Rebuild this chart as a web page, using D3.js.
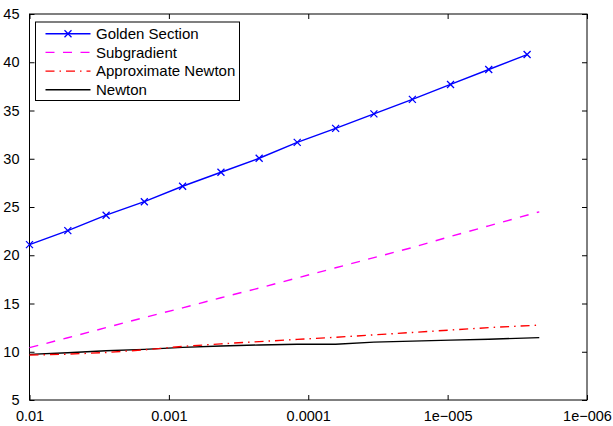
<!DOCTYPE html>
<html>
<head>
<meta charset="utf-8">
<script src="https://cdn.jsdelivr.net/npm/d3@7"></script>
<style>
  body { margin: 0; background: #fff; }
  svg text { font-family: "Liberation Sans", Arial, sans-serif; fill: #000; }
</style>
</head>
<body>
<svg id="chart" width="613" height="426"></svg>
<script>
// tolerance values (x) and iteration counts (y)
const tolGolden = [1e-2, 5.31e-3, 2.82e-3, 1.5e-3, 7.97e-4, 4.23e-4, 2.25e-4, 1.2e-4, 6.36e-5, 3.38e-5, 1.79e-5, 9.53e-6, 5.07e-6, 2.69e-6];
const tolOther = [1e-2, 5.31e-3, 2.82e-3, 1.5e-3, 7.97e-4, 4.23e-4, 2.25e-4, 1.2e-4, 6.36e-5, 3.38e-5, 1.79e-5, 9.53e-6, 5.07e-6, 2.2e-6];

const golden = [21.1, 22.55, 24.15, 25.55, 27.15, 28.6, 30.05, 31.7, 33.15, 34.65, 36.15, 37.7, 39.25, 40.8];
const subgradient = [10.42, 11.45, 12.5, 13.55, 14.55, 15.6, 16.6, 17.65, 18.7, 19.75, 20.8, 21.95, 23.05, 24.5];
const approxNewton = [9.66, 9.75, 9.92, 10.2, 10.55, 10.82, 11.05, 11.28, 11.5, 11.75, 12.0, 12.25, 12.5, 12.76];
const newton = [9.73, 9.9, 10.1, 10.25, 10.45, 10.6, 10.7, 10.77, 10.78, 11.0, 11.1, 11.2, 11.3, 11.46];

const xTicks = [1e-2, 1e-3, 1e-4, 1e-5, 1e-6];
const xTickLabels = ['0.01', '0.001', '0.0001', '1e\u2212005', '1e\u2212006'];
const yTicks = [5, 10, 15, 20, 25, 30, 35, 40, 45];

const seriesNames = ['Golden Section', 'Subgradient', 'Approximate Newton', 'Newton'];

const margin = { top: 14, right: 26, bottom: 26, left: 29.5 };
const width = 613 - margin.left - margin.right;
const height = 426 - margin.top - margin.bottom;

const svg = d3.select('#chart');
const g = svg.append('g')
  .attr('transform', `translate(${margin.left},${margin.top})`);

const x = d3.scaleLog().domain([1e-2, 1e-6]).range([0, width]);
const y = d3.scaleLinear().domain([5, 45]).range([height, 0]);

const series = [
  { name: seriesNames[0], tol: tolGolden, vals: golden, color: '#0000ff', dash: null, marker: true },
  { name: seriesNames[1], tol: tolOther, vals: subgradient, color: '#ff00ff', dash: '9,8.5', marker: false },
  { name: seriesNames[2], tol: tolOther, vals: approxNewton, color: '#ff0000', dash: '9,5,1.5,5', marker: false },
  { name: seriesNames[3], tol: tolOther, vals: newton, color: '#000000', dash: null, marker: false },
];

// axes: ticks point inwards on all four sides
const fmt = (d) => xTickLabels[xTicks.indexOf(d)];
g.append('g')
  .attr('transform', `translate(0,${height})`)
  .call(d3.axisBottom(x).tickValues(xTicks).tickFormat(fmt).tickSizeInner(-5).tickSizeOuter(0).tickPadding(10))
  .call((a) => a.select('.domain').remove())
  .call((a) => a.selectAll('text').attr('font-size', 14.5).attr('dy', '0.75em'));
g.append('g')
  .call(d3.axisTop(x).tickValues(xTicks).tickFormat('').tickSizeInner(-5).tickSizeOuter(0))
  .call((a) => a.select('.domain').remove());
g.append('g')
  .call(d3.axisLeft(y).tickValues(yTicks).tickSizeInner(-5).tickSizeOuter(0).tickPadding(10))
  .call((a) => a.select('.domain').remove())
  .call((a) => a.selectAll('text').attr('font-size', 14.5));
g.append('g')
  .attr('transform', `translate(${width},0)`)
  .call(d3.axisRight(y).tickValues(yTicks).tickFormat('').tickSizeInner(-5).tickSizeOuter(0))
  .call((a) => a.select('.domain').remove());

g.selectAll('.tick line').attr('stroke', '#000');

g.append('rect')
  .attr('width', width)
  .attr('height', height)
  .attr('fill', 'none')
  .attr('stroke', '#000')
  .attr('stroke-width', 1);

const line = d3.line()
  .x((d) => x(d[0]))
  .y((d) => y(d[1]));

// draw Newton first so the others sit on top, like the picture
series.slice().reverse().forEach((s) => {
  const pts = s.tol.map((t, i) => [t, s.vals[i]]);
  g.append('path')
    .datum(pts)
    .attr('d', line)
    .attr('fill', 'none')
    .attr('stroke', s.color)
    .attr('stroke-width', 1.4)
    .attr('stroke-dasharray', s.dash);
  if (s.marker) {
    g.selectAll(null)
      .data(pts)
      .enter().append('path')
      .attr('d', 'M-3.5,-3.5L3.5,3.5M-3.5,3.5L3.5,-3.5')
      .attr('transform', (d) => `translate(${x(d[0])},${y(d[1])})`)
      .attr('stroke', s.color)
      .attr('stroke-width', 1.3);
  }
});

// legend
const legend = svg.append('g').attr('transform', 'translate(35.5,22)');
legend.append('rect')
  .attr('width', 204)
  .attr('height', 78.5)
  .attr('fill', '#fff')
  .attr('stroke', '#000')
  .attr('stroke-width', 1);

series.forEach((s, i) => {
  const ly = 11.7 + i * 18.7;
  legend.append('line')
    .attr('x1', 10).attr('x2', 55)
    .attr('y1', ly).attr('y2', ly)
    .attr('stroke', s.color)
    .attr('stroke-width', 1.4)
    .attr('stroke-dasharray', s.dash);
  if (s.marker) {
    legend.append('path')
      .attr('d', 'M-3.5,-3.5L3.5,3.5M-3.5,3.5L3.5,-3.5')
      .attr('transform', `translate(32.5,${ly})`)
      .attr('stroke', s.color)
      .attr('stroke-width', 1.3);
  }
  legend.append('text')
    .attr('x', 60.5)
    .attr('y', ly)
    .attr('dy', '0.35em')
    .attr('font-size', 15)
    .text(s.name);
});
</script>
</body>
</html>
